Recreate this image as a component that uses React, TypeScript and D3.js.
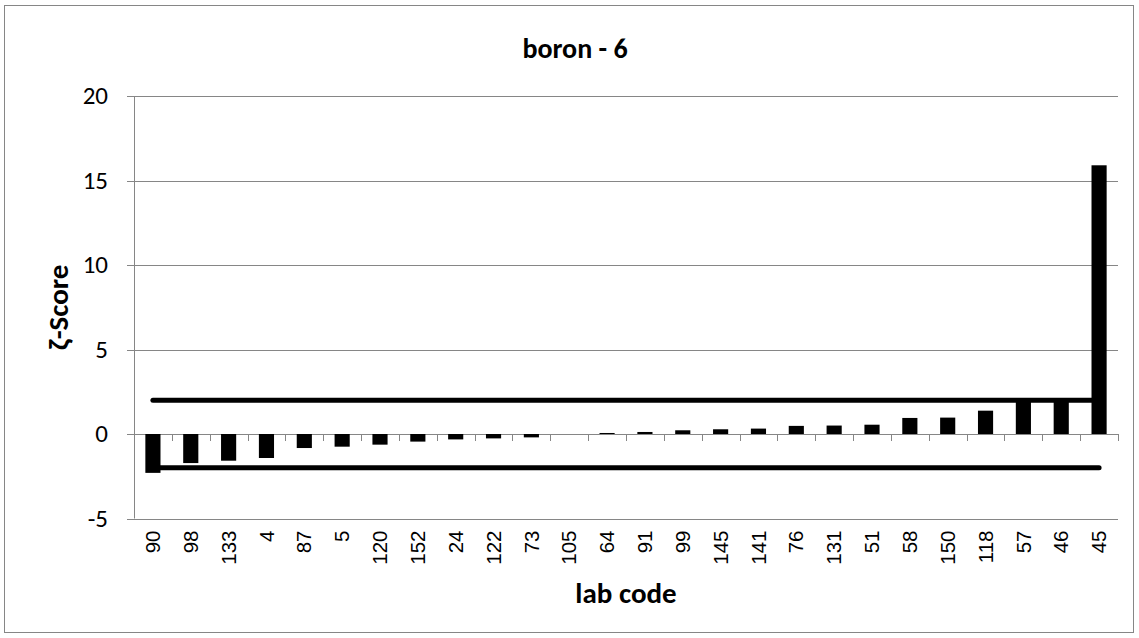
import * as d3 from 'd3';

const labCodes = ['90', '98', '133', '4', '87', '5', '120', '152', '24', '122', '73', '105', '64', '91', '99', '145', '141', '76', '131', '51', '58', '150', '118', '57', '46', '45'];
const zetaScores = [-2.3, -1.72, -1.58, -1.42, -0.83, -0.75, -0.63, -0.45, -0.32, -0.26, -0.2, 0, 0.06, 0.12, 0.22, 0.28, 0.32, 0.48, 0.5, 0.55, 0.95, 0.97, 1.38, 1.95, 1.95, 15.9];
const limits = [2, -2];
const yTicks = [-5, 0, 5, 10, 15, 20];

const W = 1139;
const H = 638;
const plot = { left: 134, right: 1118, top: 96, bottom: 518.5 };
const grid = '#868686';
const calibri = "Carlito, Calibri, 'Open Sans', sans-serif";

export default function App() {
  const x = d3
    .scaleBand<string>()
    .domain(labCodes)
    .range([plot.left, plot.right])
    .paddingInner(0.6)
    .paddingOuter(0.3);
  const y = d3.scaleLinear().domain([-5, 20]).range([plot.bottom, plot.top]);
  const step = x.step();
  const y0 = y(0);

  const center = (c: string) => (x(c) ?? 0) + x.bandwidth() / 2;
  // limit lines run from first to last category centre
  const limitLine = (v: number) =>
    d3
      .line<string>()
      .x((c) => center(c))
      .y(() => y(v))([labCodes[0], labCodes[labCodes.length - 1]]) ?? undefined;

  const boundaries = d3.range(labCodes.length + 1).map((i) => plot.left + i * step);

  return (
    <svg
      width={W}
      height={H}
      style={{ position: 'absolute', left: 0, top: 0, background: '#fff' }}
      fontFamily={calibri}
    >
      <rect x={4.5} y={5.5} width={1129} height={627} fill="#fff" stroke={grid} strokeWidth={1} />

      <text x={575} y={58} textAnchor="middle" fontSize={28} fontWeight="bold" fill="#000">
        boron - 6
      </text>

      {/* gridlines + y ticks */}
      {yTicks.map((v) => (
        <g key={v}>
          <line x1={plot.left - 7} x2={plot.right} y1={Math.round(y(v)) + 0.5} y2={Math.round(y(v)) + 0.5} stroke={grid} strokeWidth={1} />
          <text x={108} y={y(v)} dy="0.33em" textAnchor="end" fontSize={25} fill="#000">
            {v}
          </text>
        </g>
      ))}
      <line x1={plot.left + 0.5} x2={plot.left + 0.5} y1={plot.top} y2={plot.bottom} stroke={grid} strokeWidth={1} />

      {/* category ticks below zero line */}
      {boundaries.map((bx, i) => (
        <line key={i} x1={Math.round(bx) + 0.5} x2={Math.round(bx) + 0.5} y1={y0} y2={y0 + 7} stroke={grid} strokeWidth={1} />
      ))}

      {/* limit lines, drawn under the bars */}
      {limits.map((v) => (
        <path key={v} d={limitLine(v)} fill="none" stroke="#000" strokeWidth={5} strokeLinecap="round" />
      ))}

      {labCodes.map((c, i) => {
        const v = zetaScores[i];
        return (
          <rect
            key={c}
            x={x(c)}
            y={Math.min(y(v), y0)}
            width={x.bandwidth()}
            height={Math.abs(y(v) - y0)}
            fill="#000"
          />
        );
      })}

      {/* x labels rotated */}
      {labCodes.map((c) => (
        <text
          key={`l-${c}`}
          transform={`translate(${center(c)}, ${plot.bottom + 12}) rotate(-90)`}
          textAnchor="end"
          dy="0.35em"
          fontSize={20.5}
          fontFamily="'Liberation Sans', Arial, sans-serif"
          fill="#000"
        >
          {c}
        </text>
      ))}

      <text x={(plot.left + plot.right) / 2} y={603} textAnchor="middle" fontSize={29} fontWeight="bold" fill="#000">
        lab code
      </text>
      <text
        transform={`translate(68, ${(plot.top + plot.bottom) / 2}) rotate(-90)`}
        textAnchor="middle"
        fontSize={29}
        fontWeight="bold"
        fill="#000"
      >
        ζ-Score
      </text>
    </svg>
  );
}
